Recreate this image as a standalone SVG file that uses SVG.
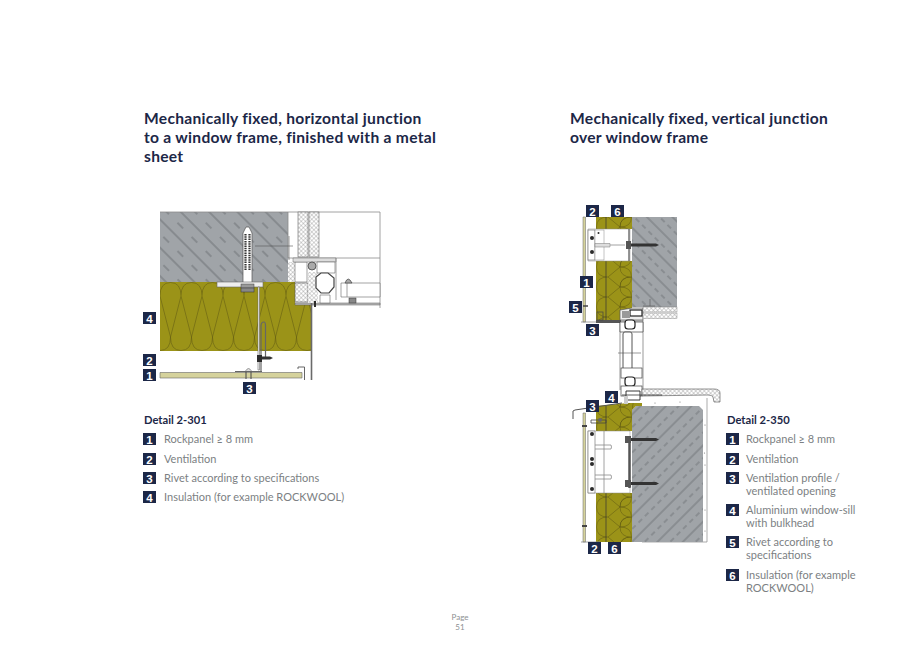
<svg xmlns="http://www.w3.org/2000/svg" width="920" height="650" viewBox="0 0 920 650">
<style>
text{font-family:Lato,"Noto Sans",sans-serif}
.title{font-size:15.6px;font-weight:700;fill:#1c2747;letter-spacing:.28px}
.detail{font-size:11.2px;font-weight:700;fill:#1c2747}
.leg{font-size:11px;fill:#7c7f83}
.page{font-size:8px;fill:#8c8f92;text-anchor:middle}
.bx{fill:#1c2747}
.num{font-size:11.5px;font-weight:700;fill:#fff;text-anchor:middle;font-family:"Liberation Sans",sans-serif}
.ln{fill:none;stroke:#555;stroke-width:.6}
.g1{fill:none;stroke:#8a8a8a;stroke-width:.8}
.g2{fill:none;stroke:#6a6a6a;stroke-width:1.4}
.w{fill:#fff;stroke:#666;stroke-width:.6}
.dk{fill:#2b2b2b}
.dot{fill:#777}
</style>
<defs>
<pattern id="hatchL" width="20" height="20" patternUnits="userSpaceOnUse" patternTransform="rotate(45)">
<rect width="20" height="20" fill="#a0a4a8"/>
<path d="M0 2H20" stroke="#4c5054" stroke-width=".6"/>
<path d="M3 12H11" stroke="#4c5054" stroke-width=".6"/>
</pattern>
<pattern id="hatchR" width="9" height="18" patternUnits="userSpaceOnUse" patternTransform="rotate(-45)">
<rect width="9" height="18" fill="#a0a4a8"/>
<path d="M0 2H9" stroke="#4c5054" stroke-width=".55"/>
<path d="M1 11H6" stroke="#4c5054" stroke-width=".55"/>
</pattern>
<pattern id="hatchT" width="9" height="18" patternUnits="userSpaceOnUse" patternTransform="rotate(45)">
<rect width="9" height="18" fill="#a0a4a8"/>
<path d="M0 2H9" stroke="#4c5054" stroke-width=".55"/>
<path d="M1 11H6" stroke="#4c5054" stroke-width=".55"/>
</pattern>
<pattern id="cross" width="3" height="3" patternUnits="userSpaceOnUse" patternTransform="rotate(45)">
<rect width="3" height="3" fill="#fff"/>
<path d="M0 0H3M0 0V3" stroke="#777" stroke-width=".6"/>
</pattern>
<pattern id="woolV" x="160" y="282" width="21" height="69" patternUnits="userSpaceOnUse">
<rect width="21" height="69" fill="#9b9318"/>
<path d="M0 14Q0 .5 10.500 .5Q21 .5 21 14M0 68.500Q10.500 68.500 10.500 55Q10.500 68.500 21 68.500M0 14L10.500 55L21 14" fill="none" stroke="#5a5510" stroke-width=".5"/>
</pattern>
<pattern id="woolH" x="596" y="217" width="36" height="20" patternUnits="userSpaceOnUse">
<rect width="36" height="20" fill="#9b9318"/>
<path d="M12 0Q.5 0 .5 10Q.5 20 12 20M35.500 0Q24 0 24 10Q24 0 35.500 0M35.500 20Q24 20 24 10M12 0L24 10L12 20M24 10Q35.500 10 35.500 0M24 10Q35.500 10 35.500 20" fill="none" stroke="#5a5510" stroke-width=".5"/>
</pattern>
</defs>
<rect width="920" height="650" fill="#fff"/>

<g id="titles">
<text class="title" x="144" y="124">Mechanically fixed, horizontal junction</text>
<text class="title" x="144" y="143">to a window frame, finished with a metal</text>
<text class="title" x="144" y="162">sheet</text>
<text class="title" x="570" y="124">Mechanically fixed, vertical junction</text>
<text class="title" x="570" y="143">over window frame</text>
</g>

<g id="detail-2-301">
<rect x="160" y="212" width="128" height="70" fill="url(#hatchL)"/>
<path d="M160 212H380V308M288 212V258H380" class="g1"/>
<rect x="298" y="212" width="10" height="45" fill="url(#cross)" stroke="#666" stroke-width=".6"/>
<rect x="309" y="212" width="10" height="45" fill="url(#cross)" stroke="#666" stroke-width=".6"/>
<path d="M160 282H295V303H311V351H160Z" fill="url(#woolV)"/>
<path d="M289 236V260M255 246H293" class="ln"/>
<path d="M288 262H295V282H288Z" fill="url(#cross)"/>
<path d="M295 262H307V282H295Z" class="w"/>
<rect x="295" y="283" width="13" height="19" fill="url(#cross)" stroke="#555" stroke-width=".6"/>
<path d="M295 303H380V305H295Z" fill="#bbb" stroke="#555" stroke-width=".5"/>
<path d="M293 258H336V262H293Z" fill="#ddd" stroke="#666" stroke-width=".5"/>
<circle cx="312" cy="266" r="4" fill="#aaa" stroke="#444" stroke-width=".8"/>
<path d="M308 272H318V303H308Z" fill="url(#cross)"/>
<path d="M317 262H335V273H317Z" class="w"/>
<path d="M336 258V300" class="g1"/>
<path d="M316 277L321 273H328L334 278V287L329 293H321L316 288Z" fill="#fff" stroke="#444" stroke-width="1.200"/>
<path d="M320 295H330V303H320Z" class="w"/>
<path d="M341 283H380V297H341Z" class="w"/>
<path d="M347 283V297" class="g1"/>
<path d="M345 283Q348 275 352 283Z" fill="#aaa" stroke="#333" stroke-width=".6"/>
<rect x="349" y="298" width="7" height="5" fill="#888" stroke="#333" stroke-width=".5"/>
<rect x="314" y="301" width="2" height="6" class="dk"/>
<path d="M311.500 303V380" fill="none" stroke="#6a6a6a" stroke-width="1.600"/>
<path d="M243 283V233L246 227H249L252 233V283Z" fill="#fff" stroke="#555" stroke-width=".7"/>
<path d="M245.500 234V270M249.500 234V270" stroke="#333" stroke-width="2.200" stroke-dasharray="1.500 .8"/>
<rect x="217" y="282" width="46" height="5" fill="#eee" stroke="#666" stroke-width=".6"/>
<rect x="241" y="284" width="13" height="4" fill="#999" stroke="#444" stroke-width=".5"/>
<rect x="241" y="288" width="13" height="4" fill="#888" stroke="#333" stroke-width=".5"/>
<path d="M258 287H259.500V370H258Z" class="w"/>
<path d="M261 372V326Q261 322 264 322Q265.500 322 265.500 326V358" fill="none" stroke="#666" stroke-width="1.200"/>
<rect x="257" y="355" width="5" height="7" class="dk"/>
<path d="M262 356.500H270L273 358L270 359.500H262Z" fill="#333"/>
<path d="M235 371H262V372H235Z" fill="#666"/>
<path d="M160 372.500H302V378H160Z" fill="#d5d29c" stroke="#666" stroke-width=".6"/>
<path d="M246 372V379M251 372V379" stroke="#444" stroke-width="1"/>
<path d="M245.500 371Q248.500 366 251.500 371" fill="#ddd" stroke="#666" stroke-width=".6"/>
<path d="M298 369V367H304.500V380" fill="none" stroke="#555" stroke-width=".9"/>
</g>

<g id="detail-2-350">
<rect x="632" y="217" width="45" height="90" fill="url(#hatchT)"/>
<path d="M596 217H632V229H596ZM596 261H632V320H596Z" fill="url(#woolH)"/>
<path d="M606 217V229M606 261V320" fill="none" stroke="#333" stroke-width=".7"/>
<path d="M583 217H585.500V322H583Z" fill="#d5d29c" stroke="#666" stroke-width=".5"/>
<path d="M581 322H596" class="g1"/>
<path d="M588 229H630V261H588Z" fill="#fff" stroke="#888" stroke-width=".5"/>
<rect x="588" y="230" width="7" height="30" fill="#fff" stroke="#666" stroke-width=".6"/>
<rect x="595" y="230" width="9" height="30" fill="#fff" stroke="#888" stroke-width=".5"/>
<circle cx="592" cy="238" r="2" class="dk"/><circle cx="592" cy="252" r="2" class="dk"/>
<circle cx="598.500" cy="233" r="1" class="dk"/>
<path d="M595 243.500H610V247H595Z" fill="#ddd" stroke="#777" stroke-width=".5"/>
<path d="M610 245H625" class="g1"/>
<path d="M629 229V261" class="g2"/>
<rect x="626" y="241" width="5" height="8" fill="#555"/>
<path d="M631 243.500H656L659 245L656 246.500H631Z" fill="#333"/>
<path d="M596 320H621V323H596Z" fill="#555"/>
<rect x="597" y="312" width="6" height="8" fill="none" stroke="#444" stroke-width=".7"/>
<path d="M583 306H588" stroke="#444" stroke-width="1.500"/>
<path d="M620 310L632 308H643V320H620Z" fill="#eee" stroke="#555" stroke-width=".7"/>
<rect x="630" y="310" width="12" height="6" fill="#fff" stroke="#222" stroke-width="1.200"/>
<rect x="622" y="311" width="8" height="7" fill="#999"/>
<rect x="643" y="307" width="34" height="5" fill="url(#cross)" stroke="#777" stroke-width=".4"/>
<rect x="643" y="313" width="34" height="5.500" fill="url(#cross)" stroke="#777" stroke-width=".4"/>
<path d="M650 299V306M643 306H655" class="ln"/>
<path d="M620 320V390M643 320V390M620 321H643" class="ln"/>
<path d="M620 322H643V332H620Z" fill="#fff" stroke="#444" stroke-width=".7"/>
<rect x="625" y="320" width="10" height="9" rx="3" fill="#fff" stroke="#222" stroke-width="1.200"/>
<rect x="623" y="332" width="9" height="40" rx="2" fill="#fff" stroke="#555" stroke-width="1"/>
<path d="M618 353H641" class="ln"/>
<rect x="621" y="368" width="21" height="10" fill="#fff" stroke="#444" stroke-width=".7"/>
<rect x="625" y="377" width="10" height="9" rx="3" fill="#fff" stroke="#222" stroke-width="1.200"/>
<rect x="621" y="386" width="21" height="10" fill="#fff" stroke="#444" stroke-width=".7"/>
<path d="M642 389H714Q720 389 720 393V402H714L713 397Q712 395 708 395L642 396Z" fill="url(#cross)" stroke="#666" stroke-width=".7"/>
<path d="M707 398V542H642V406" fill="#fff" stroke="#888" stroke-width=".7"/>
<path d="M636 406H699L703 410V542H632V410Z" fill="url(#hatchR)"/>
<path d="M596 406L628 403H642V406H636L632 410V431H596ZM596 493H632V542H596Z" fill="url(#woolH)"/>
<path d="M606 406V431M606 493V542" fill="none" stroke="#333" stroke-width=".7"/>
<path d="M626 391H640V400H626Z" fill="#fff" stroke="#222" stroke-width=".9"/>
<path d="M624 396H628V404H624Z" fill="#ccc"/>
<path d="M622 395H662" stroke="#333" stroke-width=".8"/>
<path d="M573 419V411L575 410L622 403" fill="none" stroke="#555" stroke-width="1"/>
<path d="M583 413H585.500V542H583Z" fill="#d5d29c" stroke="#666" stroke-width=".5"/>
<path d="M582 426H587M582 526H587" stroke="#444" stroke-width="2"/>
<path d="M581 542H600" class="g1"/>
<path d="M591 420H606V423H591Z" fill="none" stroke="#444" stroke-width=".8"/>
<circle cx="600" cy="420" r="2" fill="#666"/>
<path d="M588 431H630V493H588Z" fill="#fff" stroke="#888" stroke-width=".5"/>
<rect x="588" y="431" width="7" height="62" fill="#fff" stroke="#666" stroke-width=".6"/>
<path d="M595 445H611Q612 447 611 449H595M595 475H611Q612 477 611 479H595M604 431V493" class="g1"/>
<circle cx="592" cy="434" r="2" class="dk"/><circle cx="592" cy="459" r="2" class="dk"/><circle cx="592" cy="464" r="2" class="dk"/><circle cx="592" cy="489" r="2" class="dk"/>
<path d="M629.500 436V488" stroke="#555" stroke-width="2.500"/>
<rect x="625" y="436" width="6" height="7" fill="#555"/>
<rect x="625" y="480" width="6" height="7" fill="#555"/>
<path d="M631 438H656L659 439.500L656 441H631ZM631 482H656L659 483.500L656 485H631Z" fill="#333"/>
<circle class="dot" cx="655" cy="403" r=".6"/><circle class="dot" cx="680" cy="402" r=".6"/><circle class="dot" cx="705" cy="425" r=".6"/><circle class="dot" cx="704.500" cy="453" r=".6"/><circle class="dot" cx="705" cy="465" r=".6"/><circle class="dot" cx="705" cy="510" r=".6"/><circle class="dot" cx="705" cy="531" r=".6"/>
</g>

<g id="legend-2-301">
<text class="detail" x="144" y="424">Detail 2-301</text>
<text class="leg" x="164" y="443">Rockpanel ≥ 8 mm</text>
<text class="leg" x="164" y="463">Ventilation</text>
<text class="leg" x="164" y="482">Rivet according to specifications</text>
<text class="leg" x="164" y="501">Insulation (for example ROCKWOOL)</text>
</g>
<g id="legend-2-350">
<text class="detail" x="727" y="424">Detail 2-350</text>
<text class="leg" x="746" y="443">Rockpanel ≥ 8 mm</text>
<text class="leg" x="746" y="463">Ventilation</text>
<text class="leg" x="746" y="482">Ventilation profile /</text>
<text class="leg" x="746" y="495">ventilated opening</text>
<text class="leg" x="746" y="514">Aluminium window-sill</text>
<text class="leg" x="746" y="527">with bulkhead</text>
<text class="leg" x="746" y="546">Rivet according to</text>
<text class="leg" x="746" y="559">specifications</text>
<text class="leg" x="746" y="579">Insulation (for example</text>
<text class="leg" x="746" y="592">ROCKWOOL)</text>
</g>

<g id="badges">
<g id="l4"><rect class="bx" x="143" y="312" width="13" height="12"/><text class="num" x="149.500" y="322.500">4</text></g>
<g id="l2"><rect class="bx" x="143" y="354" width="13" height="12"/><text class="num" x="149.500" y="364.500">2</text></g>
<g id="l1"><rect class="bx" x="143" y="369" width="13" height="12"/><text class="num" x="149.500" y="379.500">1</text></g>
<g id="l3"><rect class="bx" x="243" y="382" width="13" height="12"/><text class="num" x="249.500" y="392.500">3</text></g>
<g id="lk1"><rect class="bx" x="143" y="433" width="13" height="12"/><text class="num" x="149.500" y="443.500">1</text></g>
<g id="lk2"><rect class="bx" x="143" y="453" width="13" height="12"/><text class="num" x="149.500" y="463.500">2</text></g>
<g id="lk3"><rect class="bx" x="143" y="472" width="13" height="12"/><text class="num" x="149.500" y="482.500">3</text></g>
<g id="lk4"><rect class="bx" x="143" y="491" width="13" height="12"/><text class="num" x="149.500" y="501.500">4</text></g>
<g id="r2t"><rect class="bx" x="586" y="205" width="13" height="12"/><text class="num" x="592.500" y="215.500">2</text></g>
<g id="r6t"><rect class="bx" x="611" y="205" width="13" height="12"/><text class="num" x="617.500" y="215.500">6</text></g>
<g id="r1"><rect class="bx" x="580" y="276" width="13" height="12"/><text class="num" x="586.500" y="286.500">1</text></g>
<g id="r5"><rect class="bx" x="569" y="301" width="13" height="12"/><text class="num" x="575.500" y="311.500">5</text></g>
<g id="r3t"><rect class="bx" x="586" y="324" width="13" height="12"/><text class="num" x="592.500" y="334.500">3</text></g>
<g id="r4"><rect class="bx" x="605" y="391" width="13" height="12"/><text class="num" x="611.500" y="401.500">4</text></g>
<g id="r3b"><rect class="bx" x="586" y="400" width="13" height="12"/><text class="num" x="592.500" y="410.500">3</text></g>
<g id="r2b"><rect class="bx" x="588" y="542" width="13" height="12"/><text class="num" x="594.500" y="552.500">2</text></g>
<g id="r6b"><rect class="bx" x="608" y="542" width="13" height="12"/><text class="num" x="614.500" y="552.500">6</text></g>
<g id="rk1"><rect class="bx" x="726" y="433" width="13" height="12"/><text class="num" x="732.500" y="443.500">1</text></g>
<g id="rk2"><rect class="bx" x="726" y="453" width="13" height="12"/><text class="num" x="732.500" y="463.500">2</text></g>
<g id="rk3"><rect class="bx" x="726" y="472" width="13" height="12"/><text class="num" x="732.500" y="482.500">3</text></g>
<g id="rk4"><rect class="bx" x="726" y="504" width="13" height="12"/><text class="num" x="732.500" y="514.500">4</text></g>
<g id="rk5"><rect class="bx" x="726" y="536" width="13" height="12"/><text class="num" x="732.500" y="546.500">5</text></g>
<g id="rk6"><rect class="bx" x="726" y="569" width="13" height="12"/><text class="num" x="732.500" y="579.500">6</text></g>
</g>

<g id="footer">
<text class="page" x="460" y="620">Page</text>
<text class="page" x="460" y="630">51</text>
</g>
</svg>
